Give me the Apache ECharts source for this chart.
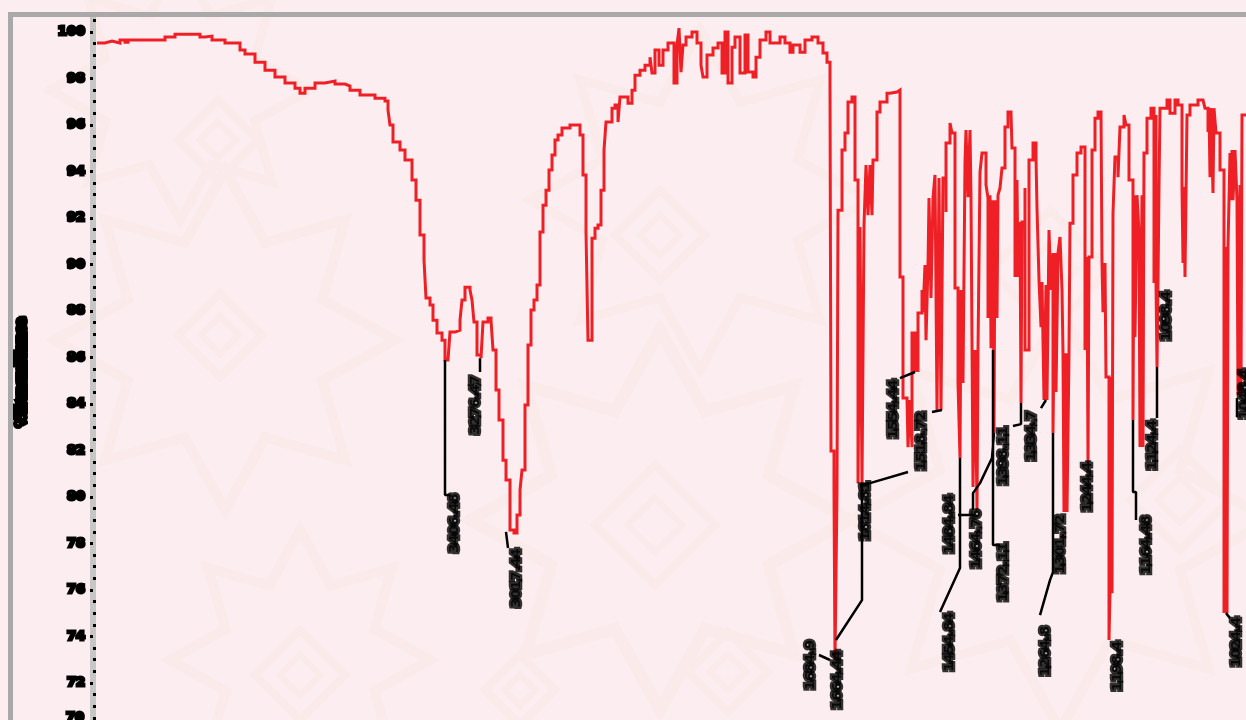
<!DOCTYPE html>
<html><head><meta charset="utf-8">
<style>html,body{margin:0;padding:0;background:#fcedf0}#c{width:1246px;height:720px}</style>
<script src="https://cdn.jsdelivr.net/npm/echarts@6/dist/echarts.min.js"></script>
</head><body><div id="c"></div>
<script>
const channel=[97,105,112,120,125,128,165,175,195,200,205,212,225,240,245,255,265,275,285,295,300,305,315,325,335,345,350,360,375,385,388,390,393,400,405,412,416,420,424,426,430,433,437,442,445,448,450,455,460,462,465,470,472,474,477,481,483,488,491,493,496,499,503,506,510,514,517,520,522,525,528,531,534,537,540,543,546,549,552,555,558,562,570,577,580,583,586,588,590,592,595,598,601,604,606,612,615,618,620,628,632,635,640,645,650,652,655,659,663,668,674,677,679,681,683,686,692,697,701,703,707,713,718,722,725,728,732,735,740,745,748,753,756,760,766,770,780,785,790,793,800,805,812,818,823,827,830,831,834,835,837,838,842,845,848,852,855,858,858,860,862,864,866,868,870,872,873,877,880,887,890,897,900,903,903,907,908,910,912,912,915,916,918,918,922,923,925,926,928,929,931,933,935,937,939,941,943,946,946,950,952,955,955,958,960,961,963,965,966,968,970,971,973,973,975,977,978,980,982,984,986,988,988,990,991,993,994,995,997,998,1000,1002,1005,1008,1011,1012,1015,1015,1017,1018,1020,1021,1022,1025,1025,1027,1029,1033,1036,1037,1039,1041,1042,1044,1046,1047,1049,1051,1053,1053,1055,1056,1058,1060,1062,1063,1064,1066,1067,1069,1070,1073,1077,1081,1085,1085,1087,1088,1089,1092,1095,1098,1101,1102,1103,1105,1106,1109,1110,1111,1112,1113,1115,1115,1118,1120,1124,1126,1129,1129,1133,1133,1134,1135,1137,1139,1140,1142,1143,1144,1147,1151,1154,1154,1156,1156,1157,1158,1159,1160,1167,1170,1175,1178,1180,1182,1183,1184,1185,1187,1190,1193,1198,1203,1205,1208,1209,1210,1211,1213,1214,1216,1217,1220,1224,1224,1226,1227,1228,1230,1231,1232,1233,1235,1237,1238,1240,1241,1242,1246];
const transmittance=[99.49,99.58,99.49,99.63,99.53,99.63,99.77,99.90,99.90,99.77,99.81,99.63,99.49,99.17,98.98,98.61,98.24,97.92,97.65,97.41,97.18,97.41,97.65,97.74,97.60,97.51,97.32,97.09,96.95,96.82,96.40,95.71,94.93,94.56,94.10,93.18,92.25,90.64,89.49,87.74,87.42,86.72,86.13,85.80,84.88,84.97,86.17,86.26,86.72,87.65,88.24,88.11,87.65,86.63,85.11,84.97,86.63,86.82,86.72,85.34,83.50,82.12,80.27,79.35,77.05,76.91,77.74,78.89,79.81,82.81,85.57,87.19,87.65,88.34,90.78,92.02,92.71,93.64,94.33,95.02,95.25,95.57,95.71,95.71,95.25,93.41,90.78,85.80,85.80,90.50,90.96,91.10,92.71,94.56,95.85,96.49,96.63,95.85,97.00,96.72,97.32,98.01,98.24,98.47,98.84,98.11,99.17,98.47,99.17,99.49,97.65,99.40,100.18,98.15,99.40,99.77,100.00,99.49,98.47,97.92,98.94,99.26,99.49,98.11,100.00,97.65,99.30,99.77,98.11,99.86,98.15,97.92,98.84,99.63,100.00,99.49,99.77,99.49,99.07,99.40,99.07,99.63,99.77,99.49,99.03,98.61,97.55,80.69,78.89,71.06,78.80,91.79,94.56,95.34,96.77,97.00,93.18,93.08,79.21,91.01,79.21,91.10,93.87,91.56,93.87,91.56,94.10,96.31,96.77,97.18,97.23,97.32,88.71,88.57,83.13,83.13,80.87,83.04,80.87,86.13,84.33,86.13,84.33,87.05,88.11,87.09,89.26,85.80,89.26,92.35,87.74,92.35,93.41,82.58,93.27,82.58,93.27,91.70,94.88,95.80,95.34,95.34,88.20,83.82,80.37,88.11,83.82,94.01,95.48,92.39,95.48,92.39,92.35,79.03,85.34,77.97,85.34,93.54,94.42,94.42,92.95,92.35,86.82,92.48,85.43,92.25,81.52,92.25,86.82,92.48,92.81,93.73,95.62,96.31,96.31,94.65,93.41,88.71,93.18,88.71,91.24,82.90,91.24,92.81,85.34,85.34,94.10,94.88,94.19,91.89,88.57,86.40,88.48,83.04,88.34,83.04,90.87,88.11,89.81,81.52,89.81,83.41,89.81,90.55,88.11,85.20,77.88,85.20,77.88,85.20,91.19,93.41,94.42,94.70,94.56,85.34,89.63,80.13,89.63,94.56,96.03,96.31,96.31,89.35,87.09,89.35,84.10,71.98,74.14,84.10,74.14,91.65,91.65,94.24,93.31,95.62,96.17,95.71,95.62,93.18,93.08,82.12,92.48,85.94,92.48,90.73,80.87,92.48,80.87,94.42,96.03,96.49,96.17,88.43,96.17,88.43,84.56,88.43,92.85,96.49,96.86,96.26,96.86,96.63,96.63,92.85,89.35,92.85,88.71,96.17,96.63,96.63,96.86,96.77,96.49,95.39,96.49,93.31,96.49,92.58,96.49,95.34,95.34,93.64,90.09,73.22,90.09,73.22,90.09,94.42,92.25,94.56,92.25,94.56,92.25,83.27,92.95,83.27,96.17,96.17];

const leaderX=[445,445,450,null,480,480,null,506,508,null,819,830,null,862,862,836,null,908,870,860,null,900,915,null,932,942,null,958,975,null,960,960,940,null,1021,1021,1013,null,993,993,1000,null,994,992,980,973,973,null,1041,1046,null,1053,1053,1050,1040,null,1133,1133,1136,1136,null,1157,1157,null,1237,1237,null,1226,1230];
const leaderT=[84.88,78.66,78.66,null,84.97,84.33,null,76.96,76.22,null,71.29,71.06,null,79.21,73.82,71.98,null,79.72,79.21,79.12,null,84.05,84.33,null,82.49,82.58,null,77.74,77.74,null,80.37,75.30,73.27,null,82.90,81.93,81.84,null,85.34,76.36,76.36,null,81.52,80.37,79.21,78.75,77.97,null,82.67,83.04,null,81.52,75.11,74.74,73.13,null,82.12,78.80,78.80,77.51,null,84.56,82.21,null,83.13,82.25,null,73.22,72.99];

const labelX=[455,476,517,811,838,866,894,922,950,977,950,1004,1004,1032,1061,1046,1088,1118,1147,1153,1167,1245,1237];
const labelT=[77.37,82.81,74.84,70.83,70.14,77.92,82.62,81.15,77.32,76.63,71.89,80.46,75.11,81.38,76.40,71.47,79.03,70.78,76.36,80.96,86.91,83.31,71.89];
const labelText=['3406.48','3276.47','3017.44','1684.9','1664.44','1614.81','1554.44','1518.72','1484.84','1464.76','1454.84','1398.11','1372.11','1334.7','1301.72','1264.8','1244.4','1198.4','1164.48','1124.4','1098.4','1048.4','1024.4'];
const yTicks=[72,74,76,78,80,82,84,86,88,90,92,94,96,98,100];
const readingScale=14/15;
const pct=t=>t==null?null:100-(100-t)*readingScale;

const pat='#faeaea';
function ring(cx,cy,r,w,c){return {type:'polygon',silent:true,z:-10,shape:{points:[[cx,cy-r],[cx+r,cy],[cx,cy+r],[cx-r,cy]]},style:{fill:'none',stroke:c||pat,lineWidth:w}}}
function star(cx,cy,r,w){const p=[];for(let i=0;i<16;i++){const a=i*Math.PI/8,q=i%2?r*0.62:r;p.push([cx+q*Math.cos(a),cy+q*Math.sin(a)])}return {type:'polygon',silent:true,z:-10,shape:{points:p},style:{fill:'none',stroke:pat,lineWidth:w}}}
const deco=[[218,140,40],[220,335,42],[655,525,60],[300,675,45],[728,672,40],[660,235,45],[1180,500,50],[520,690,35],[1050,270,60]].flatMap(a=>[ring(a[0],a[1],a[2],8),ring(a[0],a[1],a[2]*0.45,6)]).concat([star(225,340,170,10),star(660,520,190,12),star(300,660,130,10),star(1060,520,210,10),star(700,200,170,9),star(180,90,130,9)]);
const frame=[{type:'rect',silent:true,z:50,shape:{x:8,y:12,width:1240,height:5},style:{fill:'#a9a9a9'}},{type:'rect',silent:true,z:50,shape:{x:8,y:12,width:5,height:710},style:{fill:'#a9a9a9'}},
 {type:'text',silent:true,z:50,x:66,y:711,style:{text:'70',fontFamily:'DejaVu Sans',fontWeight:'bold',fontSize:13,fill:'#000',stroke:'#000',lineWidth:3}}];

const chart=echarts.init(document.getElementById('c'),null,{renderer:'canvas'});
const blob={fontFamily:'DejaVu Sans',fontWeight:'bold',color:'#000',textBorderColor:'#000'};
chart.setOption({
  animation:false,backgroundColor:'#fcedf0',
  graphic:{elements:deco.concat(frame)},
  grid:{left:93,right:0,top:15,height:714.5,containLabel:false,outerBoundsMode:'none'},
  xAxis:{type:'value',min:93,max:1246,show:false},
  yAxis:[{type:'value',min:70,max:100.73,interval:2,name:'%Transmittance',nameLocation:'middle',nameGap:65,nameRotate:90,
    nameTextStyle:Object.assign({fontSize:12,textBorderWidth:6},blob),
    axisLine:{show:true,lineStyle:{color:'#c6c6c6',width:6}},
    axisTick:{show:true,length:3,lineStyle:{color:'#000',width:3}},
    axisLabel:Object.assign({fontSize:13,margin:8,textBorderWidth:3,formatter:v=>yTicks.includes(v)?String(v):'',showMaxLabel:false},blob),
    splitLine:{show:false}},
   {type:'value',min:70,max:100.73,interval:2,position:'left',
    axisLine:{show:false},axisTick:{show:false,inside:true,length:3},axisLabel:{show:false},splitLine:{show:false},
    minorTick:{show:true,splitNumber:4,length:3,lineStyle:{color:'#000',width:3}}}],
  series:[
   {type:'line',name:'Spectrum',step:'end',showSymbol:false,symbol:'none',z:3,lineStyle:{color:'#ee2026',width:3,cap:'butt',join:'miter'},
    data:channel.map((x,i)=>[x,pct(transmittance[i])])},
   {type:'line',name:'Leaders',showSymbol:false,symbol:'none',connectNulls:false,z:4,lineStyle:{color:'#000',width:2.5},
    data:leaderX.map((x,i)=>[x,pct(leaderT[i])])},
   {type:'scatter',name:'Peaks',symbolSize:0,z:5,
    label:Object.assign({show:true,position:'inside',rotate:90,fontSize:13,align:'center',verticalAlign:'middle',textBorderWidth:4.5,formatter:p=>labelText[p.dataIndex]},blob),
    data:labelX.map((x,i)=>[x,pct(labelT[i])])}
  ]
});
</script></body></html>
